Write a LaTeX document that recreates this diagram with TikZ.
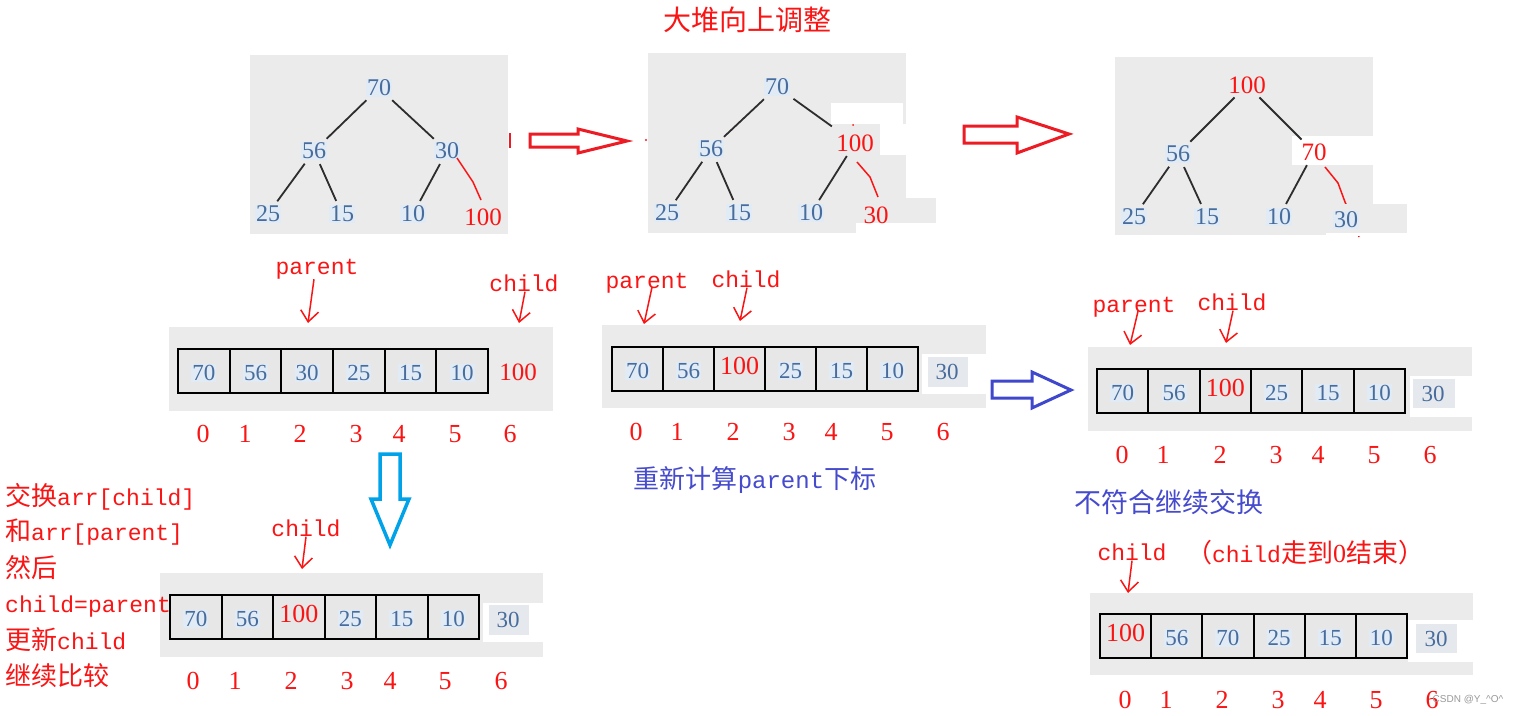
\documentclass[tikz,border=0pt]{standalone}
\usepackage{fontspec}
\setmainfont{Liberation Serif}
\newfontfamily\cjkf{Noto Sans CJK SC}
\newfontfamily\monof{Liberation Mono}
\newfontfamily\sansf{Liberation Sans}
\usetikzlibrary{arrows.meta,calc}
\definecolor{myred}{RGB}{250,20,20}
\definecolor{arrred}{RGB}{237,28,36}
\definecolor{arrblue}{RGB}{63,72,204}
\definecolor{arrcyan}{RGB}{0,162,232}
\definecolor{txtblue}{RGB}{70,75,205}
\definecolor{numblue}{RGB}{72,108,156}
\definecolor{halo}{RGB}{224,235,246}
\definecolor{panelgray}{RGB}{235,235,235}
\definecolor{cellgray}{RGB}{231,231,231}
\definecolor{patchgray}{RGB}{229,233,238}
\definecolor{edgegray}{RGB}{45,45,45}
\newcommand\zhT[1]{{\cjkf #1}}
\newcommand\mnT[1]{{\monof\fontsize{23}{23}\selectfont #1}}
\newcommand\cellrow[5]{%
  \foreach \v/\s [count=\k from 0] in {#5}{%
    \node[cellbox, minimum width=#3pt] (#1\k) at ({#2+(\k+0.5)*#3},#4) {};
    \node[\s] at (#1\k) {\v};
  }}
\newcommand\idxrow[3]{%
  \foreach \x [count=\k from 0] in {#3}{\node[idx] (#1\k) at (\x,#2) {\k};}}
\tikzset{
  tb/.style={font=\fontsize{24}{24}\selectfont, text=numblue, fill=halo, inner sep=1.2pt},
  tr/.style={font=\fontsize{25}{25}\selectfont, text=myred, inner sep=1pt},
  edge/.style={draw=edgegray, line width=1.8pt, shorten <=4pt, shorten >=4pt},
  redwave/.style={draw=myred, line width=1.5pt, line join=round},
  cellbox/.style={draw=black, line width=2pt, fill=cellgray, minimum height=44pt, inner sep=0pt},
  cb/.style={font=\fontsize{23}{23}\selectfont, text=numblue, fill=halo, inner sep=1pt, yshift=-2pt},
  cr/.style={font=\fontsize{26}{26}\selectfont, text=myred, inner sep=0pt, yshift=3pt},
  pnum/.style={font=\fontsize{23}{23}\selectfont, text=numblue, inner sep=0pt},
  idx/.style={font=\fontsize{26}{26}\selectfont, text=myred, inner sep=0pt},
  lbl/.style={font=\monof\fontsize{23}{23}\selectfont, text=myred, inner sep=0pt},
  handarrow/.style={draw=myred, line width=1.5pt, -{Straight Barb[length=11pt,width=18pt]}},
  zhred/.style={font=\cjkf\fontsize{26}{26}\selectfont, text=myred, inner sep=0pt, anchor=base west},
  blockarrow/.style={line width=3pt, fill=white, line join=miter},
}
\begin{document}
\begin{tikzpicture}[x=1pt,y=-1pt]
\useasboundingbox (0,0) rectangle (1513,715);
\fill[white] (0,0) rectangle (1513,715);

% title
\node[font=\cjkf\fontsize{28}{28}\selectfont, text=myred] (title) at (747,20) {大堆向上调整};

% ---------- tree 1 ----------
\fill[panelgray] (250,55) rectangle (508,234);
\node[tb] (t1a) at (379,88) {70};
\node[tb] (t1b) at (314,151) {56};
\node[tb] (t1c) at (447,151) {30};
\node[tb] (t1d) at (268,214) {25};
\node[tb] (t1e) at (342,214) {15};
\node[tb] (t1f) at (413,214) {10};
\node[tr] (t1g) at (483,217) {100};
\draw[edge] (t1a) -- (t1b);
\draw[edge] (t1a) -- (t1c);
\draw[edge] (t1b) -- (t1d);
\draw[edge] (t1b) -- (t1e);
\draw[edge] (t1c) -- (t1f);
\draw[redwave] ($(t1c)+(10,7)$) -- ($(t1c)+(26,31)$) -- ($(t1g)+(-2,-17)$);
\draw[arrred, line width=2pt] (509.5,133) -- (509.5,148);
\fill[arrred] (646,140) circle (1.2);

% arrow 1
\draw[blockarrow, draw=arrred] (530,134) -- (578,134) -- (578,129) -- (627,141) -- (578,153) -- (578,147) -- (530,147) -- cycle;

% ---------- tree 2 ----------
\fill[panelgray] (648,53) rectangle (906,233);
\fill[white] (831,103) rectangle (903,124);
\fill[white] (880,124) rectangle (906,155);
\fill[panelgray] (856,198) rectangle (936,223);
\fill[white] (856,223) rectangle (906,233);
\node[tb] (t2a) at (777,87) {70};
\node[tb] (t2b) at (711,149) {56};
\node[tr] (t2c) at (855,143) {100};
\node[tb] (t2d) at (667,213) {25};
\node[tb] (t2e) at (739,213) {15};
\node[tb] (t2f) at (811,213) {10};
\node[tr] (t2g) at (876,215) {30};
\draw[edge] (t2a) -- (t2b);
\draw[edge, shorten >=12pt] (t2a) -- (t2c);
\draw[edge] (t2b) -- (t2d);
\draw[edge] (t2b) -- (t2e);
\draw[edge] (t2c) -- (t2f);
\draw[redwave] ($(t2c)+(2,19)$) -- ($(t2c)+(15,34)$) -- ($(t2g)+(2,-18)$);
\fill[myred] (853,125) circle (1);

% arrow 2
\draw[blockarrow, draw=arrred] (964,126) -- (1017,126) -- (1017,117) -- (1069,134) -- (1017,153) -- (1017,143) -- (964,143) -- cycle;

% ---------- tree 3 ----------
\fill[panelgray] (1115,57) rectangle (1373,235);
\fill[white] (1292,136) rectangle (1373,165);
\node[tr] (t3a) at (1247,85) {100};
\node[tb] (t3b) at (1178,154) {56};
\node[tr] (t3c) at (1314,152) {70};
\node[tb] (t3d) at (1134,217) {25};
\node[tb] (t3e) at (1207,217) {15};
\node[tb] (t3f) at (1279,217) {10};
\draw[edge] (t3a) -- (t3b);
\draw[edge] (t3a) -- (t3c);
\draw[edge] (t3b) -- (t3d);
\draw[edge] (t3b) -- (t3e);
\draw[edge] (t3c) -- (t3f);
\draw[redwave] ($(t3c)+(11,15)$) -- ($(t3c)+(24,31)$) -- ($(t3c)+(31,50)$) -- ($(t3c)+(43,76)$) -- ($(t3c)+(45,85)$);
\fill[panelgray] (1326,204) rectangle (1407,233);
\fill[white] (1326,233) rectangle (1373,236);
\node[tb] (t3g) at (1346,220) {30};

% ---------- array 1 ----------
\fill[panelgray] (169,327) rectangle (553,411);
\cellrow{a1c}{178}{51.67}{371}{70/cb,56/cb,30/cb,25/cb,15/cb,10/cb}
\node[tr] (a1x) at (518,372) {100};
\idxrow{a1i}{434}{203,245,300,356,399,455,510}
\node[lbl] (a1p) at (317,269) {parent};
\coordinate (a1pt) at (308,323);
\draw[handarrow] ([xshift=-3pt]a1p.south) -- (a1pt);
\node[lbl] (a1k) at (524,283) {child};
\coordinate (a1kt) at (519,323);
\draw[handarrow] ([xshift=1pt]a1k.south) -- (a1kt);

% down arrow
\draw[blockarrow, draw=arrcyan, line width=3.5pt] (380,454) -- (400,454) -- (400,499) -- (409,499) -- (390,545) -- (371,499) -- (380,499) -- cycle;

% ---------- array 2 ----------
\fill[panelgray] (602,325) rectangle (986,408);
\fill[white] (922,354) rectangle (986,394);
\cellrow{a2c}{612}{51}{369}{70/cb,56/cb,100/cr,25/cb,15/cb,10/cb}
\fill[patchgray] (928,357) rectangle (968,387);
\node[pnum] (a2x) at (947,372) {30};
\idxrow{a2i}{432}{636,677,733,789,831,887,943}
\node[lbl] (a2p) at (647,283) {parent};
\coordinate (a2pt) at (644,324);
\draw[handarrow] ([xshift=5pt,yshift=6pt]a2p.south) -- (a2pt);
\node[lbl] (a2k) at (746,279) {child};
\coordinate (a2kt) at (740,321);
\draw[handarrow] ([xshift=1pt]a2k.south) -- (a2kt);
\node[font=\fontsize{26}{26}\selectfont, text=txtblue, inner sep=0pt] (a2note) at (755,480) {\zhT{重新计算}{\monof\fontsize{24}{24}\selectfont parent}\zhT{下标}};

% blue arrow
\draw[blockarrow, draw=arrblue] (992,381) -- (1032,381) -- (1032,372) -- (1071,390) -- (1032,408) -- (1032,398) -- (992,398) -- cycle;

% ---------- array 3 ----------
\fill[panelgray] (1088,347) rectangle (1472,431);
\fill[white] (1410,376) rectangle (1472,417);
\cellrow{a3c}{1097}{51.33}{391}{70/cb,56/cb,100/cr,25/cb,15/cb,10/cb}
\fill[patchgray] (1413,379) rectangle (1455,408);
\node[pnum] (a3x) at (1433,394) {30};
\idxrow{a3i}{455}{1122,1163,1220,1276,1318,1374,1430}
\node[lbl] (a3p) at (1134,307) {parent};
\coordinate (a3pt) at (1130,345);
\draw[handarrow] ([xshift=4pt,yshift=6pt]a3p.south) -- (a3pt);
\node[lbl] (a3k) at (1232,302) {child};
\coordinate (a3kt) at (1226,343);
\draw[handarrow] ([xshift=1pt]a3k.south) -- (a3kt);
\node[font=\cjkf\fontsize{27}{27}\selectfont, text=txtblue, inner sep=0pt] (a3note) at (1169,502) {不符合继续交换};

% ---------- array 4 ----------
\fill[panelgray] (160,573) rectangle (543,657);
\fill[white] (483,603) rectangle (543,642);
\cellrow{a4c}{170}{51.5}{617}{70/cb,56/cb,100/cr,25/cb,15/cb,10/cb}
\fill[patchgray] (489,605) rectangle (529,635);
\node[pnum] (a4x) at (508,620) {30};
\idxrow{a4i}{681}{193,235,291,347,390,445,501}
\node[lbl] (a4k) at (306,528) {child};
\coordinate (a4kt) at (302,569);
\draw[handarrow] (a4k.south) -- (a4kt);

% left explanation
\node[zhred] (s1) at (5,505) {\zhT{交换}\mnT{arr[child]}};
\node[zhred] (s2) at (5,540) {\zhT{和}\mnT{arr[parent]}};
\node[zhred] (s3) at (5,577) {然后};
\node[zhred] (s4) at (5,612) {\mnT{child=parent}};
\node[zhred] (s5) at (5,649) {\zhT{更新}\mnT{child}};
\node[zhred] (s6) at (5,685) {继续比较};

% ---------- array 5 ----------
\fill[panelgray] (1090,593) rectangle (1473,675);
\fill[white] (1408,620) rectangle (1473,662);
\cellrow{a5c}{1100}{51.17}{636}{100/cr,56/cb,70/cb,25/cb,15/cb,10/cb}
\fill[patchgray] (1416,624) rectangle (1457,653);
\node[pnum] (a5x) at (1436,639) {30};
\idxrow{a5i}{700}{1125,1166,1222,1278,1320,1376,1432}
\node[lbl] (a5k) at (1132,552) {child};
\coordinate (a5kt) at (1128,593);
\draw[handarrow] (a5k.south) -- (a5kt);
\node[font=\fontsize{26}{26}\selectfont, text=myred, inner sep=0pt] (a5note) at (1305,553) {\zhT{（}{\monof\fontsize{23}{23}\selectfont child}\zhT{走到}0\zhT{结束）}};

% watermark
\node[font=\sansf\fontsize{10}{10}\selectfont, text=black!40, inner sep=0pt] (wm) at (1468,700) {CSDN @Y\_\textasciicircum O\textasciicircum};
\end{tikzpicture}
\end{document}
